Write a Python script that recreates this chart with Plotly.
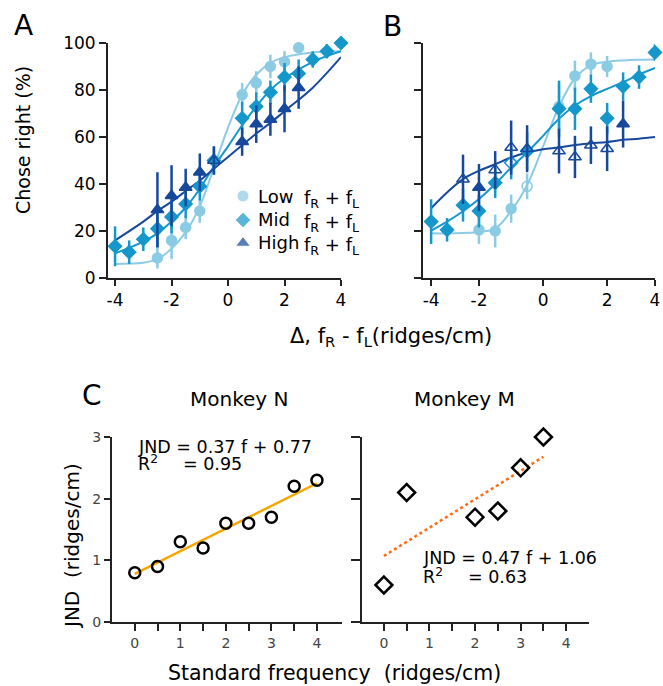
import plotly.graph_objects as go

W, H = 663, 686
FONT = "DejaVu Sans"
C_LOW = "#8ccbe4"
C_MID = "#1597cb"
C_HIGH = "#17489b"
C_AXIS = "#222222"

# ---------------- Panel A data ----------------
a_low_x = [-2.5, -2, -1.5, -1, 0.5, 1, 1.5, 2, 2.5]
a_low_y = [8.5, 16, 21.5, 28.5, 78, 83, 90, 92, 98]
a_low_err = [4.5, 8, 5, 5, 5, 5, 5, 4.5, 2]

a_mid_x = [-4, -3.5, -3, -2.5, -2, -1.5, -1, -0.5, 0.5, 1, 1.5, 2, 2.5, 3, 3.5, 4]
a_mid_y = [13.5, 11, 16.5, 21, 26, 31.5, 39, 50, 68, 73, 79, 85.5, 87, 93, 96.5, 100]
a_mid_err = [8.5, 5, 5, 8, 7, 6, 6, 6, 7, 6, 5, 6, 6, 3.5, 3, 1]

a_high_x = [-2.5, -2, -1.5, -1, -0.5, 0.5, 1, 1.5, 2, 2.5]
a_high_y = [29, 35, 38.5, 45, 50, 58, 65.5, 67.5, 72, 81]
a_high_err = [16, 13, 8, 8, 6, 6, 8, 7, 10, 9]
a_high_open = [False, False, False, False, True, False, False, False, False, False]

a_tick_vals = [-4, -2, 0, 2, 4]
a_tick_text = ["-4", "-2", "0", "2", "4"]

# fitted curves
a_fit_x = [-4, -3, -2.5, -2, -1.5, -1, -0.5, 0, 0.5, 1, 1.5, 2, 3, 4]
a_fit_low = [6, 6.5, 8, 12.5, 19.5, 30.5, 47, 64, 78, 86.5, 91.5, 94, 96, 96.5]
a_fit_mid = [10.5, 15.5, 19, 24, 30, 38, 47.5, 56, 65, 73, 80, 85, 92, 96.5]
a_fit_high = [16, 24, 28.5, 32.5, 37, 41.5, 46.5, 51.5, 56.5, 61.5, 66, 71, 81, 94]

# ---------------- Panel B data ----------------
b_x = [-4, -3.43, -2.86, -2.29, -1.71, -1.14, -0.57, 0.57, 1.14, 1.71, 2.29, 2.86, 3.43, 4]
b_tick_vals = [-4, -2.29, 0, 2.29, 4]
b_tick_text = ["-4", "-2", "0", "2", "4"]

b_low_x = [-2.29, -1.71, -1.14, -0.57, 0.57, 1.14, 1.71, 2.29]
b_low_y = [20.5, 20, 29.5, 39, 73, 86, 91, 90]
b_low_err = [6, 7, 6, 5.5, 10, 6.5, 5, 4.5]
b_low_open = [False, False, False, True, False, False, False, False]

b_mid_y = [24, 20.5, 31, 28.5, 40.5, 49, 54, 72, 72, 80.5, 68, 81.5, 85.5, 96]
b_mid_err = [9.5, 5, 7, 7, 6.5, 7, 8, 12, 9, 6, 6.5, 6, 5, 3.5]
b_mid_open = [False, False, False, False, False, True, False, False, False, False, False, False, False, False]

b_high_x = [-2.86, -2.29, -1.71, -1.14, -0.57, 0.57, 1.14, 1.71, 2.29, 2.86]
b_high_y = [42, 38.5, 46, 55.5, 55, 54, 51.5, 56.5, 55, 65.5]
b_high_err = [10.5, 10, 8, 11.5, 10, 9.5, 9, 8, 9.5, 10]
b_high_open = [True, False, True, True, True, True, True, True, True, False]

b_fit_x = [-4, -3.43, -2.86, -2.29, -1.71, -1.14, -0.57, 0, 0.57, 1.14, 1.71, 2.29, 2.86, 3.43, 4]
b_fit_low = [19, 19, 19.2, 19.6, 21, 28.5, 39.5, 56, 73, 85, 90.5, 92, 92.6, 92.9, 93]
b_fit_mid = [20.2, 24, 28.4, 33.6, 40, 47, 53.4, 60.5, 67.8, 73.4, 77.4, 80.5, 83.3, 86.6, 89.4]
b_fit_high = [29.7, 36.4, 42.1, 45.6, 48.4, 51.3, 53.4, 54.8, 55.5, 56.6, 57.3, 57.9, 58.8, 59.3, 60]

# ---------------- Panel C data ----------------
cn_x = [0, 0.5, 1, 1.5, 2, 2.5, 3, 3.5, 4]
cn_y = [0.8, 0.9, 1.3, 1.2, 1.6, 1.6, 1.7, 2.2, 2.3]
cn_fit_x = [0, 4]
cn_fit_y = [0.78, 2.25]

cm_x = [0, 0.5, 2, 2.5, 3, 3.5]
cm_y = [0.6, 2.1, 1.7, 1.8, 2.5, 3.0]
cm_fit_x = [0, 3.5]
cm_fit_y = [1.07, 2.68]

c_tick_vals = [0, 0.5, 1, 1.5, 2, 2.5, 3, 3.5, 4]
c_tick_text = ["0", "", "1", "", "2", "", "3", "", "4"]

# legend
legend_names = ["Low", "Mid", "High"]
legend_colors = [C_LOW, C_MID, C_HIGH]
legend_symbols = ["circle", "diamond", "triangle-up"]


def sym(base, flags):
    return [base + "-open" if f else base for f in flags]


fig = go.Figure()


def add_fit(x, y, color, xa, ya):
    fig.add_trace(go.Scatter(x=x, y=y, mode="lines", line=dict(color=color, width=2, shape="spline", smoothing=1.0),
                             xaxis=xa, yaxis=ya, hoverinfo="skip", showlegend=False))


def add_pts(x, y, err, color, symbols, size, xa, ya):
    fig.add_trace(go.Scatter(x=x, y=y, mode="markers",
                             marker=dict(color=color, symbol=symbols, size=size, line=dict(color=color, width=1.5)),
                             error_y=dict(type="data", array=err, color=color, thickness=2.5, width=0),
                             xaxis=xa, yaxis=ya, showlegend=False, cliponaxis=False))


# Panel A
add_fit(a_fit_x, a_fit_low, C_LOW, "x", "y")
add_fit(a_fit_x, a_fit_mid, C_MID, "x", "y")
add_fit(a_fit_x, a_fit_high, C_HIGH, "x", "y")
add_pts(a_low_x, a_low_y, a_low_err, C_LOW, "circle", 10, "x", "y")
add_pts(a_mid_x, a_mid_y, a_mid_err, C_MID, "diamond", 10, "x", "y")
add_pts(a_high_x, a_high_y, a_high_err, C_HIGH, sym("triangle-up", a_high_open), 11, "x", "y")

# Panel B
add_fit(b_fit_x, b_fit_low, C_LOW, "x2", "y2")
add_fit(b_fit_x, b_fit_mid, C_MID, "x2", "y2")
add_fit(b_fit_x, b_fit_high, C_HIGH, "x2", "y2")
add_pts(b_low_x, b_low_y, b_low_err, C_LOW, sym("circle", b_low_open), 10, "x2", "y2")
add_pts(b_x, b_mid_y, b_mid_err, C_MID, sym("diamond", b_mid_open), 10, "x2", "y2")
add_pts(b_high_x, b_high_y, b_high_err, C_HIGH, sym("triangle-up", b_high_open), 11, "x2", "y2")

# Panel C
fig.add_trace(go.Scatter(x=cn_fit_x, y=cn_fit_y, mode="lines", line=dict(color="#f5a700", width=2.5),
                         xaxis="x3", yaxis="y3", showlegend=False))
fig.add_trace(go.Scatter(x=cn_x, y=cn_y, mode="markers",
                         marker=dict(symbol="circle-open", size=11, color="black", line=dict(width=2.5)),
                         xaxis="x3", yaxis="y3", showlegend=False, cliponaxis=False))
fig.add_trace(go.Scatter(x=cm_fit_x, y=cm_fit_y, mode="lines", line=dict(color="#ff6a10", width=2.5, dash="dot"),
                         xaxis="x4", yaxis="y4", showlegend=False))
fig.add_trace(go.Scatter(x=cm_x, y=cm_y, mode="markers",
                         marker=dict(symbol="diamond-open", size=13, color="black", line=dict(width=2.5)),
                         xaxis="x4", yaxis="y4", showlegend=False, cliponaxis=False))

# legend swatches on a hidden pixel-space overlay axis
leg_px = [243, 243, 243]
leg_py = [196, 220, 243]
fig.add_trace(go.Scatter(x=leg_px, y=leg_py, mode="markers",
                         marker=dict(color=legend_colors, symbol=legend_symbols, size=[12, 12, 13]),
                         xaxis="x5", yaxis="y5", showlegend=False, hoverinfo="skip"))


def px(x):
    return x / W


def py(y):
    return 1 - y / H


axis_common = dict(showline=True, linewidth=2, linecolor=C_AXIS, ticks="outside", tickwidth=2,
                   tickcolor=C_AXIS, showgrid=False, zeroline=False, automargin=False)
ab_font = dict(family=FONT, size=17, color="black")
c_font = dict(family=FONT, size=14, color="#444444")

fig.update_layout(
    width=W, height=H, margin=dict(l=0, r=0, t=0, b=0, pad=0, autoexpand=False),
    paper_bgcolor="white", plot_bgcolor="rgba(0,0,0,0)",
    font=dict(family=FONT, color="black"),
    xaxis=dict(domain=[px(108), px(341)], range=[-4.25, 4], tickvals=a_tick_vals, ticktext=a_tick_text, ticklen=6,
               tickfont=ab_font, anchor="y", **axis_common),
    yaxis=dict(domain=[py(278), py(43)], range=[0, 100], tickvals=[0, 20, 40, 60, 80, 100], ticklen=7,
               tickfont=ab_font, anchor="x", **axis_common),
    xaxis2=dict(domain=[px(423), px(655)], range=[-4.29, 4], tickvals=b_tick_vals, ticktext=b_tick_text,
                ticklen=6, tickfont=ab_font, anchor="y2", **axis_common),
    yaxis2=dict(domain=[py(278), py(43)], range=[0, 100], tickvals=[0, 20, 40, 60, 80, 100], ticklen=7,
                showticklabels=False, anchor="x2", **axis_common),
    xaxis3=dict(domain=[px(112), px(342)], range=[-0.5, 4.55], tickvals=c_tick_vals, ticktext=c_tick_text,
                ticklen=7, tickfont=c_font, anchor="y3", **axis_common),
    yaxis3=dict(domain=[py(622), py(437)], range=[0, 3], tickvals=[0, 1, 2, 3], ticklen=6,
                tickfont=c_font, anchor="x3", **axis_common),
    xaxis4=dict(domain=[px(362), px(589)], range=[-0.48, 4.5], tickvals=c_tick_vals, ticktext=c_tick_text,
                ticklen=7, tickfont=c_font, anchor="y4", **axis_common),
    yaxis4=dict(domain=[py(622), py(437)], range=[0, 3], tickvals=[0, 1, 2, 3], ticklen=9,
                showticklabels=False, anchor="x4", **axis_common),
    xaxis5=dict(domain=[0, 1], range=[0, W], visible=False, anchor="y5", fixedrange=True),
    yaxis5=dict(domain=[0, 1], range=[H, 0], visible=False, anchor="x5", fixedrange=True),
)


def ann(text, x, y, size, xanchor="center", yanchor="middle", angle=0, color="black"):
    fig.add_annotation(text=text, x=px(x), y=py(y), xref="paper", yref="paper", showarrow=False,
                       xanchor=xanchor, yanchor=yanchor, textangle=angle, borderpad=0,
                       font=dict(family=FONT, size=size, color=color))


ann("A", 23, 26, 28)
ann("B", 392, 27, 28)
ann("C", 92, 395, 28)
ann("Chose right (%)", 23, 140, 19, angle=-90)
ann("Δ, f<sub>R</sub> - f<sub>L</sub>(ridges/cm)", 391, 337, 21)

for name, yy in zip(legend_names, leg_py):
    ann(name, 257, yy, 18, xanchor="left")
    ann("f<sub>R</sub> + f<sub>L</sub>", 303, yy + 3, 18, xanchor="left")

ann("Monkey N", 239, 399, 20)
ann("Monkey M", 465, 399, 20)
ann("JND&nbsp;&nbsp;(ridges/cm)", 72, 546, 20, angle=-90)
ann("Standard frequency&nbsp;&nbsp;(ridges/cm)", 334, 673, 20.5)

ann("JND = 0.37 f + 0.77", 137, 447, 17.5, xanchor="left")
ann("R<sup>2</sup>", 137, 463, 17.5, xanchor="left")
ann("= 0.95", 182, 464, 17.5, xanchor="left")
ann("JND = 0.47 f + 1.06", 422, 558, 17.5, xanchor="left")
ann("R<sup>2</sup>", 422, 576, 17.5, xanchor="left")
ann("= 0.63", 467, 577, 17.5, xanchor="left")

fig.write_html("out.html", config={"displayModeBar": False},
               post_script="document.body.style.margin='0';document.body.style.overflow='hidden';")
